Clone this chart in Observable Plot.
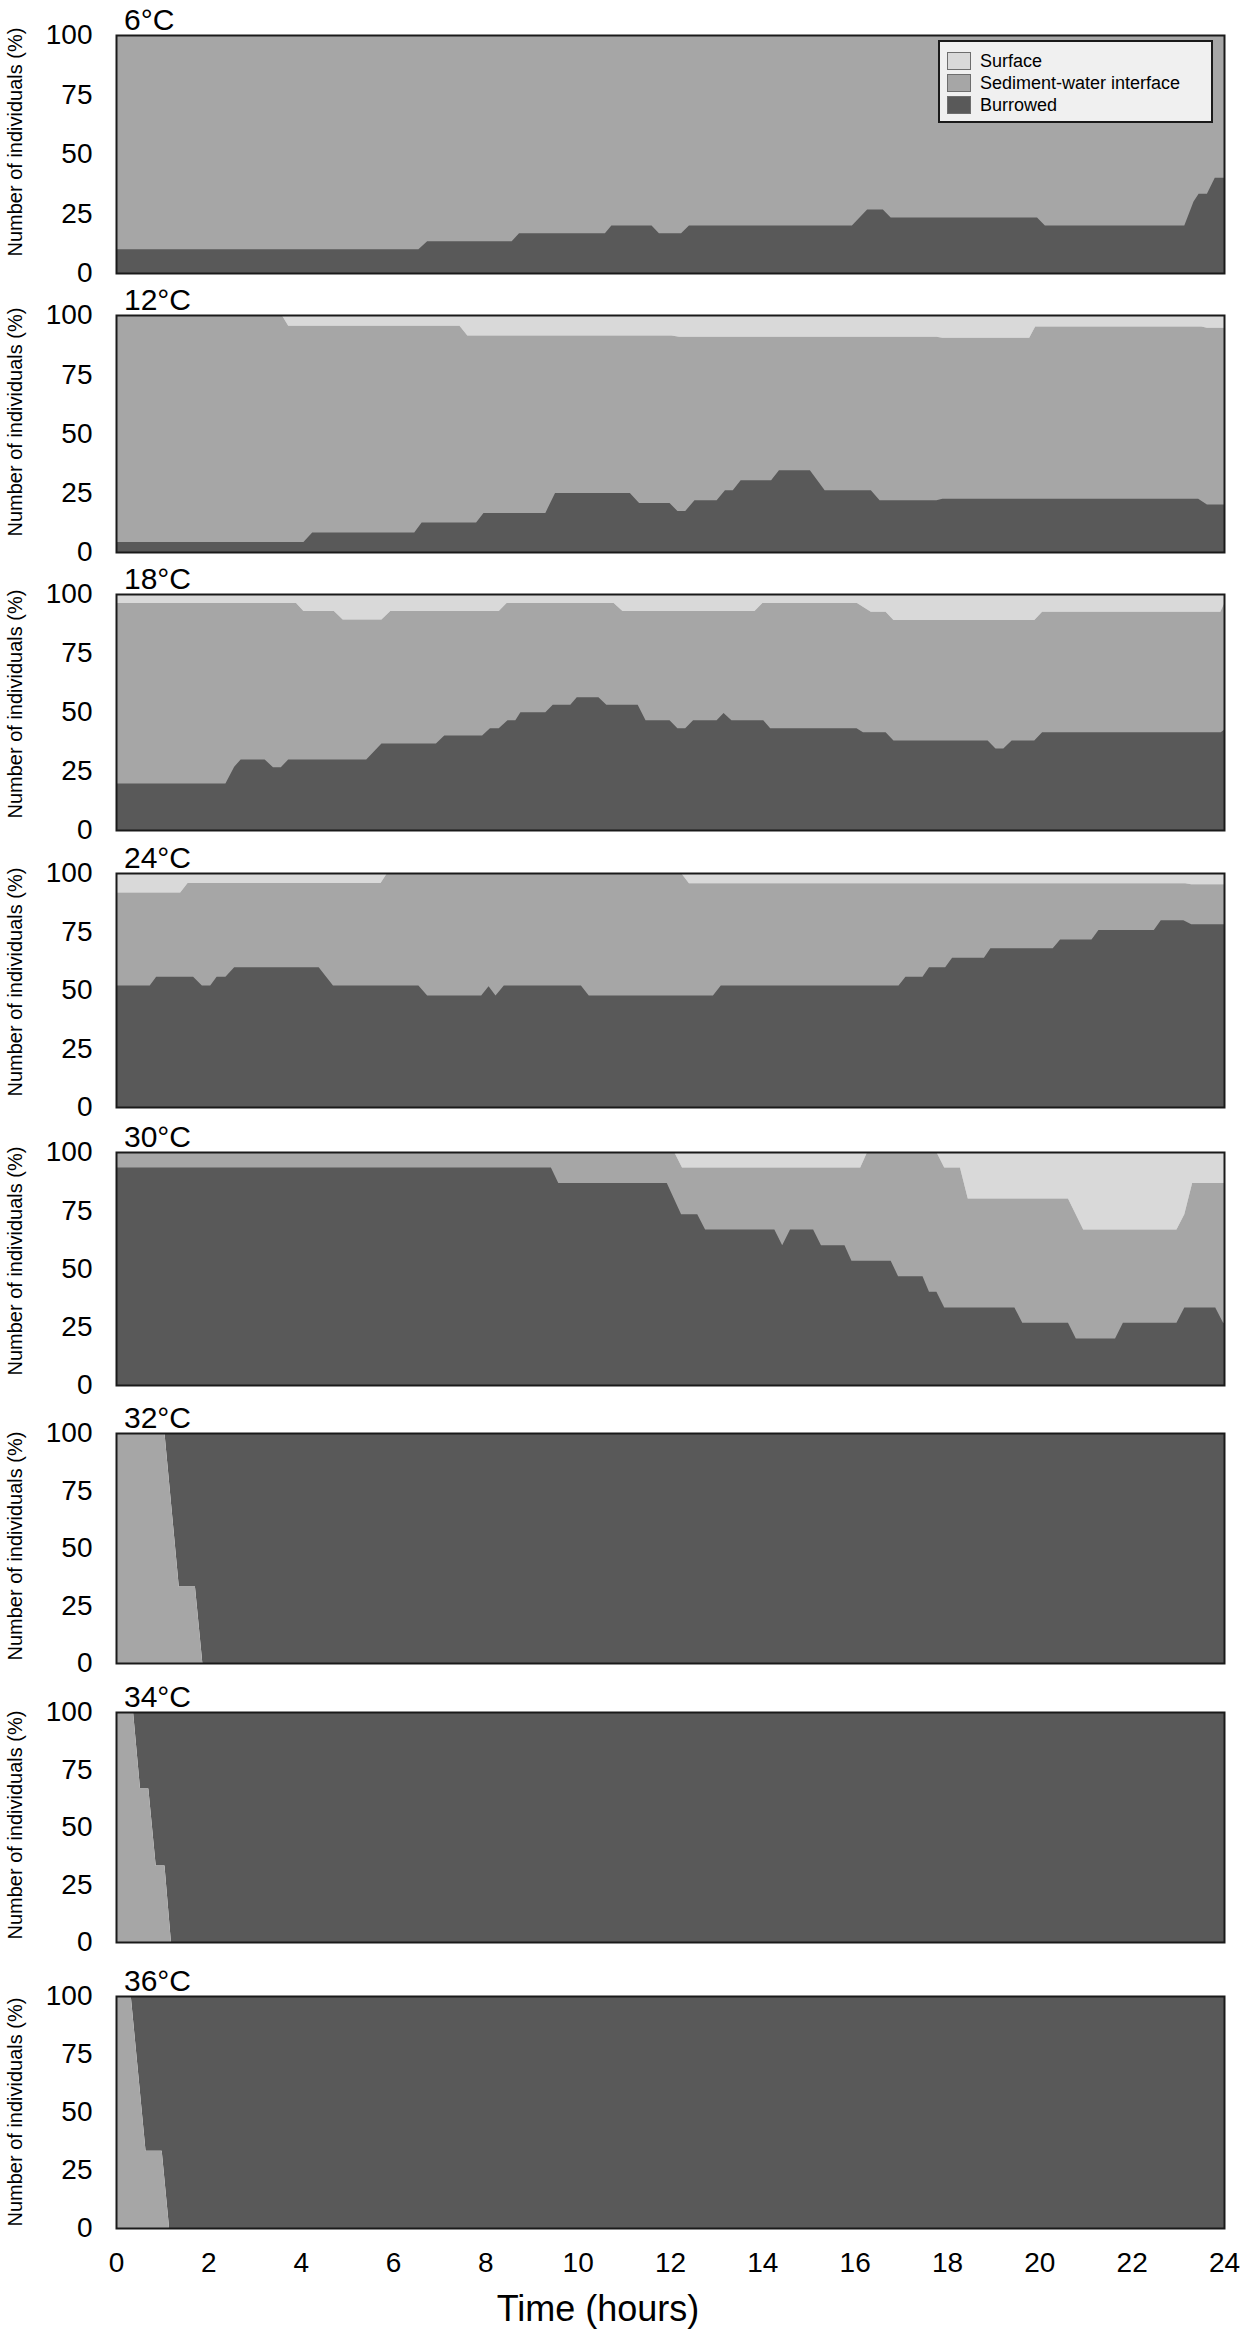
<!DOCTYPE html>
<html><head><meta charset="utf-8">
<script src="https://cdn.jsdelivr.net/npm/d3@7"></script>
<script src="https://cdn.jsdelivr.net/npm/@observablehq/plot@0.6"></script>
<style>
body{margin:0;background:#fff;}
#chart{position:relative;width:1240px;height:2332px;font-family:"Liberation Sans",Arial,sans-serif;overflow:hidden;background:#fff;}
.panel{position:absolute;left:0;}
.title{position:absolute;left:124px;font-size:30px;line-height:30px;color:#000;white-space:nowrap;}
.ytitle{position:absolute;width:260px;height:20px;text-align:center;font-size:20px;line-height:20px;color:#000;white-space:nowrap;transform:rotate(-90deg);transform-origin:50% 50%;}
.xlabel{position:absolute;font-size:36px;line-height:36px;color:#000;white-space:nowrap;transform:translateX(-50%);}
.legend{position:absolute;left:938px;top:40px;width:271px;height:79px;background:#f0f0f0;border:2px solid #1a1a1a;}
.legend .row{position:absolute;left:7px;height:18px;font-size:18px;line-height:18px;white-space:nowrap;}
.legend .sw{position:absolute;left:0;top:0;width:22px;height:16px;border:1px solid #6e6e6e;}
.legend .lab{position:absolute;left:33px;top:0;}
</style></head><body><div id="chart"></div>
<script>
// ---- categories / labels ----
const temps = ["6°C", "12°C", "18°C", "24°C", "30°C", "32°C", "34°C", "36°C"];
const seriesNames = ["Surface", "Sediment-water interface", "Burrowed"];
const seriesColors = ["#d9d9d9", "#a6a6a6", "#595959"];
const hourTicks = [0, 2, 4, 6, 8, 10, 12, 14, 16, 18, 20, 22, 24];
const pctTicks = [0, 25, 50, 75, 100];
const yTitle = "Number of individuals (%)";
const xTitle = "Time (hours)";

// ---- data: [time (hours), % of individuals] ----
const burrowed6 = [[0,10],[6.55,10],[6.74,13.3],[8.57,13.3],[8.73,16.7],[10.59,16.7],[10.73,20],[11.6,20],[11.76,16.7],[12.24,16.7],[12.41,20],[15.94,20],[16.27,26.7],[16.61,26.7],[16.78,23.3],[19.95,23.3],[20.12,20],[23.14,20],[23.34,30],[23.45,33.3],[23.63,33.3],[23.8,40],[24,40]];
const surface6 = [[0,0],[24,0]];

const burrowed12 = [[0,4.2],[4.06,4.2],[4.25,8.2],[6.46,8.2],[6.62,12.4],[7.8,12.4],[7.96,16.5],[9.3,16.5],[9.51,24.9],[11.13,24.9],[11.33,20.7],[11.99,20.7],[12.16,17.3],[12.33,17.3],[12.53,21.8],[13.01,21.8],[13.19,26.1],[13.36,26.1],[13.53,30.3],[14.19,30.3],[14.36,34.5],[15.03,34.5],[15.35,26.1],[16.35,26.1],[16.54,21.8],[17.77,21.8],[17.9,22.5],[23.44,22.5],[23.63,20],[24,20]];
const surface12 = [[0,0],[3.59,0],[3.73,4.5],[7.44,4.5],[7.61,8.7],[12.03,8.7],[12.2,9.2],[17.77,9.2],[17.9,9.6],[19.78,9.6],[19.91,4.9],[23.51,4.9],[23.63,5.4],[24,5.4]];

const burrowed18 = [[0,19.7],[2.37,19.7],[2.56,26.8],[2.7,29.9],[3.22,29.9],[3.4,26.6],[3.57,26.6],[3.73,29.9],[5.42,29.9],[5.75,36.6],[6.93,36.6],[7.11,40],[7.93,40],[8.1,43.1],[8.29,43.1],[8.48,46.5],[8.65,46.5],[8.76,49.9],[9.3,49.9],[9.46,53.1],[9.84,53.1],[9.98,56.3],[10.45,56.3],[10.62,53.1],[11.3,53.1],[11.47,46.5],[11.99,46.5],[12.16,43.1],[12.33,43.1],[12.5,46.5],[13.01,46.5],[13.16,49.6],[13.33,46.5],[14.02,46.5],[14.17,43.1],[16.04,43.1],[16.18,41.4],[16.67,41.4],[16.84,37.9],[18.88,37.9],[19.05,34.5],[19.22,34.5],[19.4,37.9],[19.89,37.9],[20.06,41.4],[23.93,41.4],[24,42.5]];
const surface18 = [[0,3.8],[3.9,3.8],[4.06,7.2],[4.72,7.2],[4.91,10.8],[5.75,10.8],[5.94,7.2],[8.29,7.2],[8.46,3.8],[10.78,3.8],[10.97,7.2],[13.83,7.2],[14.0,3.8],[16.05,3.8],[16.35,7.5],[16.67,7.5],[16.84,11],[19.89,11],[20.06,7.5],[23.92,7.5],[24,4]];

const burrowed24 = [[0,51.9],[0.73,51.9],[0.87,55.7],[1.67,55.7],[1.86,51.9],[2.04,51.9],[2.18,55.7],[2.37,55.7],[2.56,59.7],[4.39,59.7],[4.7,51.9],[6.55,51.9],[6.74,47.7],[7.91,47.7],[8.07,51.6],[8.22,47.7],[8.4,51.9],[10.07,51.9],[10.24,47.7],[12.93,47.7],[13.1,51.9],[16.95,51.9],[17.1,55.7],[17.47,55.7],[17.61,59.7],[17.96,59.7],[18.11,63.8],[18.8,63.8],[18.94,67.8],[20.29,67.8],[20.45,71.6],[21.13,71.6],[21.28,75.6],[22.48,75.6],[22.63,79.8],[23.12,79.8],[23.29,78.1],[24,78.1]];
const surface24 = [[0,8.3],[1.39,8.3],[1.55,4.3],[5.73,4.3],[5.87,0],[12.24,0],[12.41,4.4],[23.16,4.4],[23.29,4.8],[24,4.8]];

const burrowed30 = [[0,93.3],[9.42,93.3],[9.58,86.7],[11.93,86.7],[12.24,73.3],[12.59,73.3],[12.76,66.7],[14.26,66.7],[14.43,60],[14.6,66.7],[15.1,66.7],[15.27,60],[15.78,60],[15.93,53.3],[16.78,53.3],[16.94,46.7],[17.47,46.7],[17.61,40],[17.77,40],[17.94,33.3],[19.46,33.3],[19.63,26.7],[20.62,26.7],[20.79,20],[21.64,20],[21.81,26.7],[22.97,26.7],[23.14,33.3],[23.81,33.3],[23.98,26.7],[24,26.7]];
const surface30 = [[0,0],[12.09,0],[12.26,6.7],[16.12,6.7],[16.27,0],[17.77,0],[17.94,6.7],[18.28,6.7],[18.45,20],[20.62,20],[20.95,33.3],[22.97,33.3],[23.14,26.7],[23.31,13.3],[24,13.3]];

// at 32-36 °C the sediment-water group is drawn at the bottom of the stack
const sediment32 = [[0,100],[1.05,100],[1.36,33.3],[1.71,33.3],[1.87,0],[24,0]];
const sediment34 = [[0,100],[0.37,100],[0.52,66.7],[0.7,66.7],[0.86,33.3],[1.05,33.3],[1.19,0],[24,0]];
const sediment36 = [[0,100],[0.32,100],[0.64,33.3],[0.99,33.3],[1.15,0],[24,0]];

const panels = [
  {temp: temps[0], burrowed: burrowed6, surface: surface6},
  {temp: temps[1], burrowed: burrowed12, surface: surface12},
  {temp: temps[2], burrowed: burrowed18, surface: surface18},
  {temp: temps[3], burrowed: burrowed24, surface: surface24},
  {temp: temps[4], burrowed: burrowed30, surface: surface30},
  {temp: temps[5], sediment: sediment32},
  {temp: temps[6], sediment: sediment34},
  {temp: temps[7], sediment: sediment36}
];

// ---- layout ----
const frameTop = [35, 315, 594, 873, 1152, 1433, 1712, 1996];
const frameH = [238, 237, 236, 234, 233, 230, 230, 232];
const yTitleShift = [-12, -12, -8, -8, -8, -2, -2, 0];
const chart = document.getElementById("chart");
const FONT = "'Liberation Sans', Arial, sans-serif";
const [cSurf, cSed, cBur] = seriesColors;
const X = d => d[0];

panels.forEach((p, i) => {
  const last = i === panels.length - 1;
  const mt = 3, mb = last ? 70 : 3;
  const marks = [];
  if (p.sediment) {
    marks.push(Plot.areaY(p.sediment, {x: X, y1: d => d[1], y2: () => 100, fill: cBur}));
    marks.push(Plot.areaY(p.sediment, {x: X, y1: () => 0, y2: d => d[1], fill: cSed}));
  } else {
    marks.push(Plot.areaY(p.surface, {x: X, y1: d => 100 - d[1], y2: () => 100, fill: cSurf}));
    marks.push(Plot.areaY(p.surface, {x: X, y1: () => 0, y2: d => 100 - d[1], fill: cSed}));
    marks.push(Plot.areaY(p.burrowed, {x: X, y1: () => 0, y2: d => d[1], fill: cBur}));
  }
  marks.push(Plot.frame({stroke: "#1a1a1a", strokeWidth: 2}));
  marks.push(Plot.axisY({ticks: pctTicks, tickSize: 0, tickPadding: 24, fontSize: 28, label: null}));
  if (last) marks.push(Plot.axisX({ticks: hourTicks, tickSize: 0, tickPadding: 24, fontSize: 28, label: null}));

  const svg = Plot.plot({
    width: 1240,
    height: frameH[i] + mt + mb,
    marginLeft: 116, marginRight: 16, marginTop: mt, marginBottom: mb,
    x: {domain: [0, 24], ...(last ? {} : {axis: null})},
    y: {domain: [0, 100]},
    style: {fontFamily: FONT, color: "#000", background: "transparent", overflow: "visible"},
    marks
  });
  const wrap = document.createElement("div");
  wrap.className = "panel";
  wrap.style.top = (frameTop[i] - mt) + "px";
  wrap.appendChild(svg);
  chart.appendChild(wrap);

  const t = document.createElement("div");
  t.className = "title";
  t.textContent = p.temp;
  t.style.top = (frameTop[i] - 5 - 25) + "px";
  chart.appendChild(t);

  const yt = document.createElement("div");
  yt.className = "ytitle";
  yt.textContent = yTitle;
  const cy = frameTop[i] + frameH[i] / 2 + yTitleShift[i];
  yt.style.left = (15 - 130) + "px";
  yt.style.top = (cy - 10) + "px";
  chart.appendChild(yt);
});

// x title
const xl = document.createElement("div");
xl.className = "xlabel";
xl.textContent = xTitle;
xl.style.left = "598px";
xl.style.top = "2291px";
chart.appendChild(xl);

// legend
const lg = document.createElement("div");
lg.className = "legend";
const rowTops = [10, 32, 54];
seriesNames.forEach((name, k) => {
  const r = document.createElement("div");
  r.className = "row";
  r.style.top = rowTops[k] + "px";
  const sw = document.createElement("div");
  sw.className = "sw";
  sw.style.background = seriesColors[k];
  const lab = document.createElement("div");
  lab.className = "lab";
  lab.textContent = name;
  r.appendChild(sw); r.appendChild(lab);
  lg.appendChild(r);
});
chart.appendChild(lg);
</script>
</body></html>
